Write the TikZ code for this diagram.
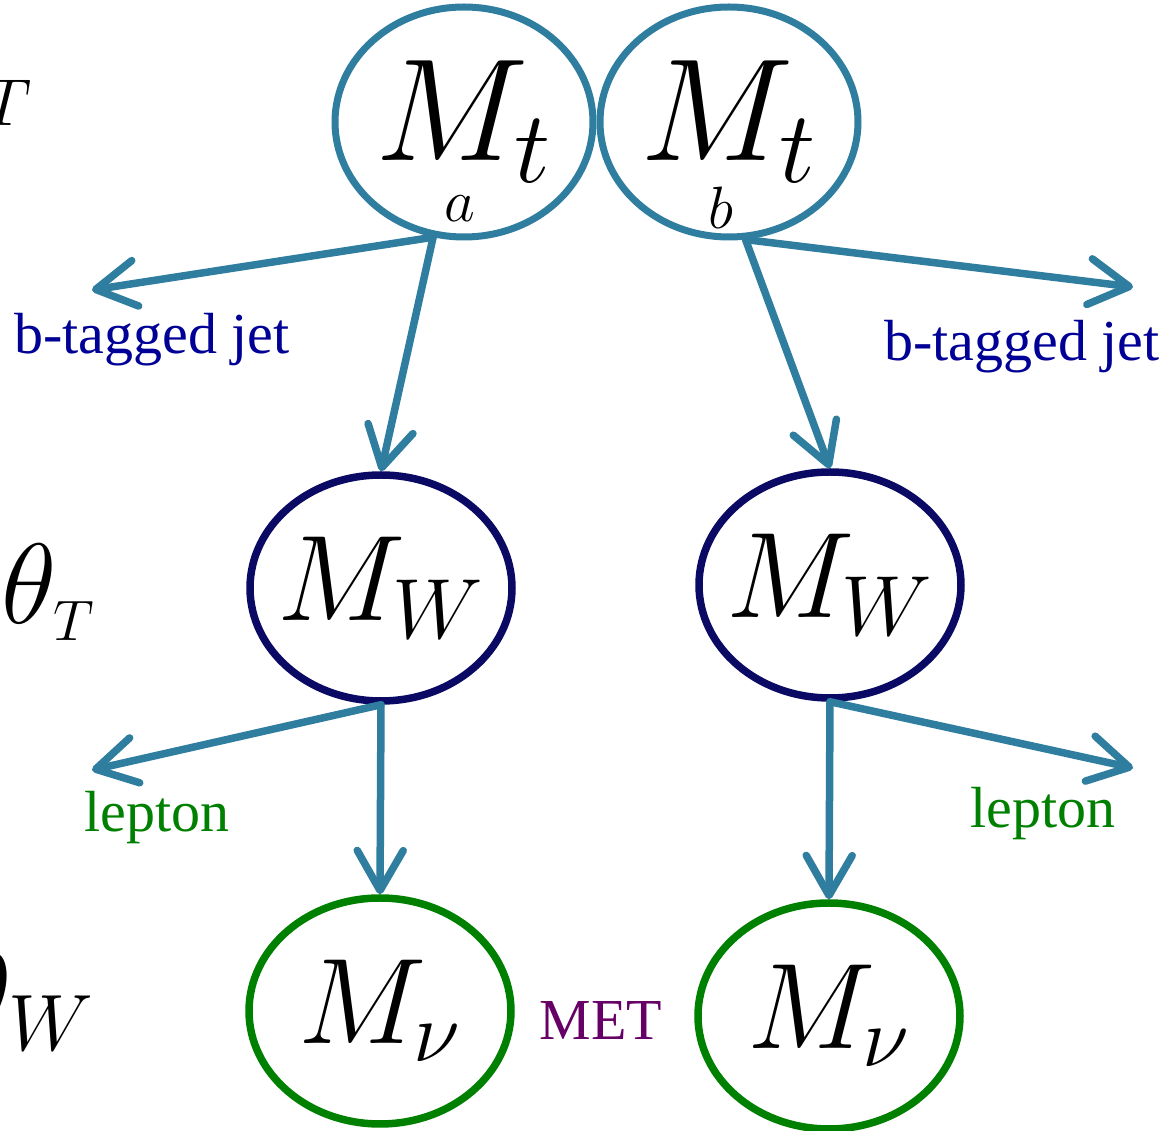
\RequirePackage{fix-cm}
\documentclass[tikz,border=0pt]{standalone}
\usepackage{fontspec}
\setmainfont{Liberation Serif}
\usetikzlibrary{arrows.meta, shapes.geometric, positioning}

\definecolor{decayteal}{RGB}{47,126,160}
\definecolor{wnavy}{RGB}{10,10,100}
\definecolor{nugreen}{RGB}{0,128,0}
\definecolor{jetblue}{RGB}{0,0,150}
\definecolor{metpurple}{RGB}{102,0,102}

\newcommand{\massname}[1]{\makebox[0pt]{$#1$}}

\tikzset{
	mass/.style={ellipse, draw, line width=0.75mm, minimum width=26.2mm, minimum height=22.6mm, inner sep=0pt},
	topmass/.style={mass, draw=decayteal, line width=0.7mm, minimum width=25.8mm, minimum height=23mm, font=\fontsize{41.5}{48}\selectfont},
	wmass/.style={mass, draw=wnavy, font=\fontsize{34.7}{40}\selectfont},
	numass/.style={mass, draw=nugreen, font=\fontsize{34.7}{40}\selectfont},
	decay/.style={decayteal, line width=0.75mm, line cap=round, -{Straight Barb[round, length=4mm, width=4.6mm]}},
	tag/.style={inner sep=0pt, font=\fontsize{16.5}{20}\selectfont},
	axislabel/.style={anchor=south east, inner sep=0pt, font=\fontsize{32.5}{38}\selectfont}
}

\begin{document}
\begin{tikzpicture}[x=0.1mm, y=-0.1mm]
	\useasboundingbox (0,0) rectangle (1167,1131);

	% left side labels (cut by the frame)
	\node[axislabel, font=\fontsize{27}{32}\selectfont] (thtop) at (34,126) {$\theta_T$};
	\node[axislabel] (thmid) at (97,641) {$\theta_{\scriptscriptstyle T}$};
	\node[axislabel] (thbot) at (96,1051) {$\theta_W$};

	% masses
	\node[topmass] (ta) at (464,122) {\massname{M_t}};
	\node[topmass] (tb) at (729,122) {\massname{M_t}};
	\node[inner sep=0pt, font=\fontsize{17}{20}\selectfont] (la) at (460,209) {$a$};
	\node[inner sep=0pt, font=\fontsize{17}{20}\selectfont] (lb) at (721,208) {$b$};
	\node[wmass] (wa) at (381,588) {\massname{M_W}};
	\node[wmass] (wb) at (830,585) {\massname{M_W}};
	\node[numass] (na) at (380,1011) {\massname{M_\nu}};
	\node[numass] (nb) at (829,1016) {\massname{M_\nu}};

	% decay products
	\node[tag, text=jetblue] (jeta) at (152,340) {b-tagged jet};
	\node[tag, text=jetblue] (jetb) at (1022,347) {b-tagged jet};
	\node[tag, text=nugreen] (lepa) at (157,818) {lepton};
	\node[tag, text=nugreen] (lepb) at (1043,814) {lepton};
	\node[tag, text=metpurple] (met) at (601,1021) {MET};

	\coordinate (jetL) at (92,290);
	\coordinate (jetR) at (1133,287);
	\coordinate (lepL) at (92,770);
	\coordinate (lepR) at (1133,768);

	\draw[decay] (ta.255) -- (jetL);
	\draw[decay] (ta.255) -- (wa.north);
	\draw[decay] (tb.278) -- (jetR);
	\draw[decay] (tb.278) -- (wb.north);
	\draw[decay] (wa.south) -- (lepL);
	\draw[decay] (wa.south) -- (na.north);
	\draw[decay] (wb.south) -- (lepR);
	\draw[decay] (wb.south) -- (nb.north);
\end{tikzpicture}
\end{document}
